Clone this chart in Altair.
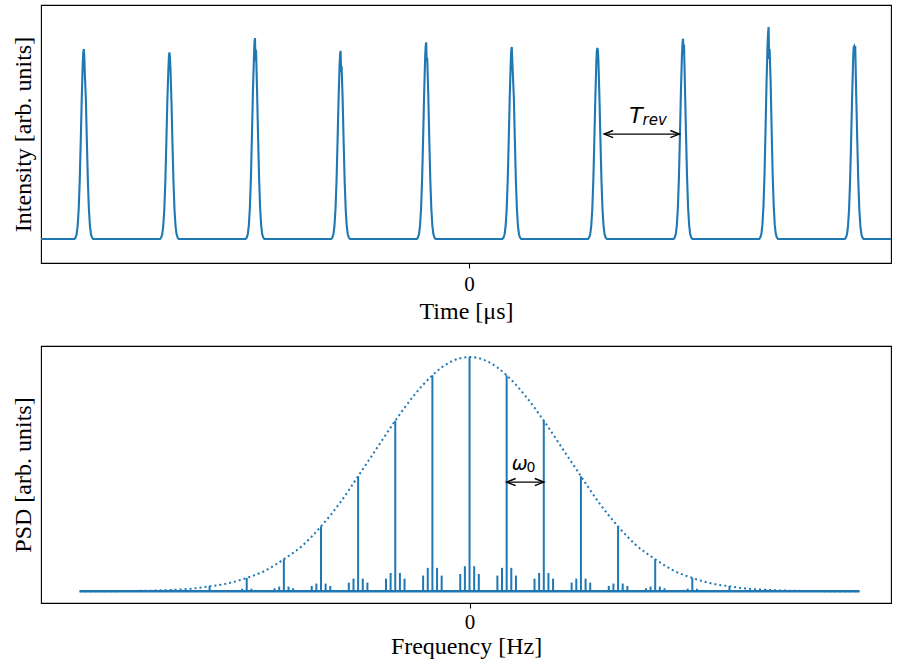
import altair as alt
import pandas as pd

BLUE = "#1f77b4"
SERIF = "Liberation Serif"
PLOT_W = 850

# ---------------- Top panel: bunch intensity vs time ----------------
# pulse centres in units of the revolution period
pulse_centres = [-4.5, -3.5, -2.5, -1.5, -0.5, 0.5, 1.5, 2.5, 3.5, 4.5]
# crest of each pulse at offsets -0.012, -0.006, 0, +0.006, +0.012
crest_offsets = [-0.012, -0.006, 0.0, 0.006, 0.012]
pulse_crests = [
    [0.83, 0.88, 0.896, 0.86, 0.78],
    [0.80, 0.86, 0.880, 0.86, 0.81],
    [0.86, 0.93, 0.948, 0.84, 0.893],
    [0.82, 0.87, 0.888, 0.79, 0.816],
    [0.86, 0.91, 0.928, 0.84, 0.854],
    [0.84, 0.89, 0.906, 0.84, 0.78],
    [0.84, 0.89, 0.901, 0.89, 0.84],
    [0.87, 0.92, 0.945, 0.87, 0.917],
    [0.92, 0.97, 1.000, 0.85, 0.896],
    [0.85, 0.905, 0.909, 0.89, 0.91],
]
# flank of a pulse (relative to its peak), away from the crest
flank_offsets = [0.024, 0.036, 0.048, 0.060, 0.072, 0.084, 0.096, 0.110]
flank_levels = [0.74, 0.51, 0.30, 0.154, 0.068, 0.025, 0.008, 0.0]
time_domain = [-5.0, 4.93]

rows = [{"t": time_domain[0], "I": 0.0}, {"t": time_domain[1], "I": 0.0}]
for c, crest in zip(pulse_centres, pulse_crests):
    peak = max(crest)
    for off, lev in zip(flank_offsets, flank_levels):
        rows.append({"t": c - off, "I": lev * peak})
        rows.append({"t": c + off, "I": lev * peak})
    for off, v in zip(crest_offsets, crest):
        rows.append({"t": c + off, "I": v})
pulses = pd.DataFrame(rows).sort_values("t").reset_index(drop=True)

tx = alt.Scale(domain=time_domain, nice=False, zero=False)
ty = alt.Scale(domain=[-0.113, 1.104], nice=False, zero=False)

x_axis_t = alt.Axis(values=[0], format="d", title="Time [μs]", grid=False,
                    domain=False, labelPadding=5, titlePadding=5)
y_axis_t = alt.Axis(title="Intensity [arb. units]", labels=False, ticks=False,
                    grid=False, domain=False)

pulse_line = alt.Chart(pulses).mark_line(color=BLUE, strokeWidth=2.1).encode(
    x=alt.X("t:Q", scale=tx, axis=x_axis_t),
    y=alt.Y("I:Q", scale=ty, axis=y_axis_t),
    order="t:Q",
)

LEFT_HEAD = "M 1 -0.4 L 0 0 L 1 0.4"
RIGHT_HEAD = "M -1 -0.4 L 0 0 L -1 0.4"


def double_arrow(x0, x1, y, xs, ys):
    seg = pd.DataFrame({"x0": [x0], "x1": [x1], "y": [y]})
    rule = alt.Chart(seg).mark_rule(color="black", strokeWidth=1.4).encode(
        x=alt.X("x0:Q", scale=xs), x2="x1:Q", y=alt.Y("y:Q", scale=ys)
    )
    left = alt.Chart(seg).mark_point(
        shape=LEFT_HEAD, filled=False, size=324, stroke="black",
        strokeWidth=1.4, opacity=1,
    ).encode(x=alt.X("x0:Q", scale=xs), y=alt.Y("y:Q", scale=ys))
    right = alt.Chart(seg).mark_point(
        shape=RIGHT_HEAD, filled=False, size=324, stroke="black",
        strokeWidth=1.4, opacity=1,
    ).encode(x=alt.X("x1:Q", scale=xs), y=alt.Y("y:Q", scale=ys))
    return [rule, left, right]


def label(text, x, y, size, italic, xs, ys):
    df = pd.DataFrame({"x": [x], "y": [y], "s": [text]})
    kw = dict(font="DejaVu Sans", fontSize=size, baseline="alphabetic",
              align="center", color="black")
    if italic:
        kw["fontStyle"] = "italic"
    return alt.Chart(df).mark_text(**kw).encode(
        x=alt.X("x:Q", scale=xs), y=alt.Y("y:Q", scale=ys), text="s:N"
    )


top = alt.layer(
    pulse_line,
    *double_arrow(1.579, 2.457, 0.495, tx, ty),
    label("T", 1.95, 0.547, 22, True, tx, ty),
    label("rev", 2.17, 0.536, 15, True, tx, ty),
).properties(width=PLOT_W, height=258)

# ---------------- Bottom panel: power spectral density ----------------
harmonics = list(range(-10, 11))
# revolution harmonic line heights, indexed by |n|
main_heights = [1.0, 0.922, 0.728, 0.491, 0.277, 0.137, 0.057, 0.022, 0.007, 0.003, 0.001]
# synchrotron sidebands at +-0.125 and +-0.25 of the revolution frequency
inner_heights = [0.107, 0.100, 0.078, 0.054, 0.033, 0.020, 0.011, 0.005, 0.003, 0.002, 0.001]
outer_heights = [0.074, 0.067, 0.054, 0.037, 0.023, 0.013, 0.006, 0.003, 0.002, 0.001, 0.001]
sideband_offsets = [0.125, 0.25]

lines = []
for n in harmonics:
    k = abs(n)
    lines.append({"f": n, "p": main_heights[k]})
    for off, hs in zip(sideband_offsets, [inner_heights, outer_heights]):
        lines.append({"f": n - off, "p": hs[k]})
        lines.append({"f": n + off, "p": hs[k]})
spectrum = pd.DataFrame(lines)
spectrum["base"] = 0.0

env_freq = [x / 2 for x in range(-21, 22)]
env_level = [
    0.0001, 0.0003, 0.0007, 0.0015, 0.003, 0.006, 0.011, 0.021, 0.034, 0.057,
    0.088, 0.137, 0.195, 0.277, 0.375, 0.491, 0.61, 0.728, 0.835, 0.922,
    0.98, 1.0, 0.98, 0.922, 0.835, 0.728, 0.61, 0.491, 0.375, 0.277,
    0.195, 0.137, 0.088, 0.057, 0.034, 0.021, 0.011, 0.006, 0.003, 0.0015,
    0.0007, 0.0003, 0.0001,
]
envelope = pd.DataFrame({"f": env_freq, "p": env_level})

fx = alt.Scale(domain=[-11.54, 11.35], nice=False, zero=False)
fy = alt.Scale(domain=[-0.05, 1.047], nice=False, zero=False)

x_axis_f = alt.Axis(values=[0], format="d", title="Frequency [Hz]",
                    grid=False, domain=False, labelPadding=3, titlePadding=2)
y_axis_f = alt.Axis(title="PSD [arb. units]", labels=False, ticks=False,
                    grid=False, domain=False)

env_line = alt.Chart(envelope).mark_line(
    color=BLUE, strokeWidth=2, strokeDash=[2, 3], interpolate="monotone"
).encode(
    x=alt.X("f:Q", scale=fx, axis=x_axis_f),
    y=alt.Y("p:Q", scale=fy, axis=y_axis_f),
)
stems = alt.Chart(spectrum).mark_rule(color=BLUE, strokeWidth=2).encode(
    x=alt.X("f:Q", scale=fx), y=alt.Y("base:Q", scale=fy), y2="p:Q"
)
base_df = pd.DataFrame({"f0": [-10.5], "f1": [10.5], "p": [0.0]})
baseline = alt.Chart(base_df).mark_rule(color=BLUE, strokeWidth=2.6).encode(
    x=alt.X("f0:Q", scale=fx), x2="f1:Q", y=alt.Y("p:Q", scale=fy)
)

bottom = alt.layer(
    env_line, baseline, stems,
    *double_arrow(1.0, 2.0, 0.466, fx, fy),
    label("ω", 1.348, 0.519, 19, True, fx, fy),
    label("0", 1.655, 0.509, 14, False, fx, fy),
).properties(width=PLOT_W, height=257)

chart = (
    alt.vconcat(top, bottom, spacing=83, bounds="flush")
    .properties(padding={"left": 10, "top": 4, "right": 0, "bottom": 0})
    .configure_view(stroke="black", strokeWidth=1.1)
    .configure_axis(
        titleFont=SERIF, titleFontSize=24, titleFontWeight="normal",
        titleColor="black", labelFont=SERIF, labelFontSize=21,
        labelColor="black", tickColor="black", tickSize=5, tickWidth=1.1,
    )
    .configure_axisLeft(titlePadding=6)
)

chart.save("out.html", embed_options={"renderer": "svg", "actions": False})
